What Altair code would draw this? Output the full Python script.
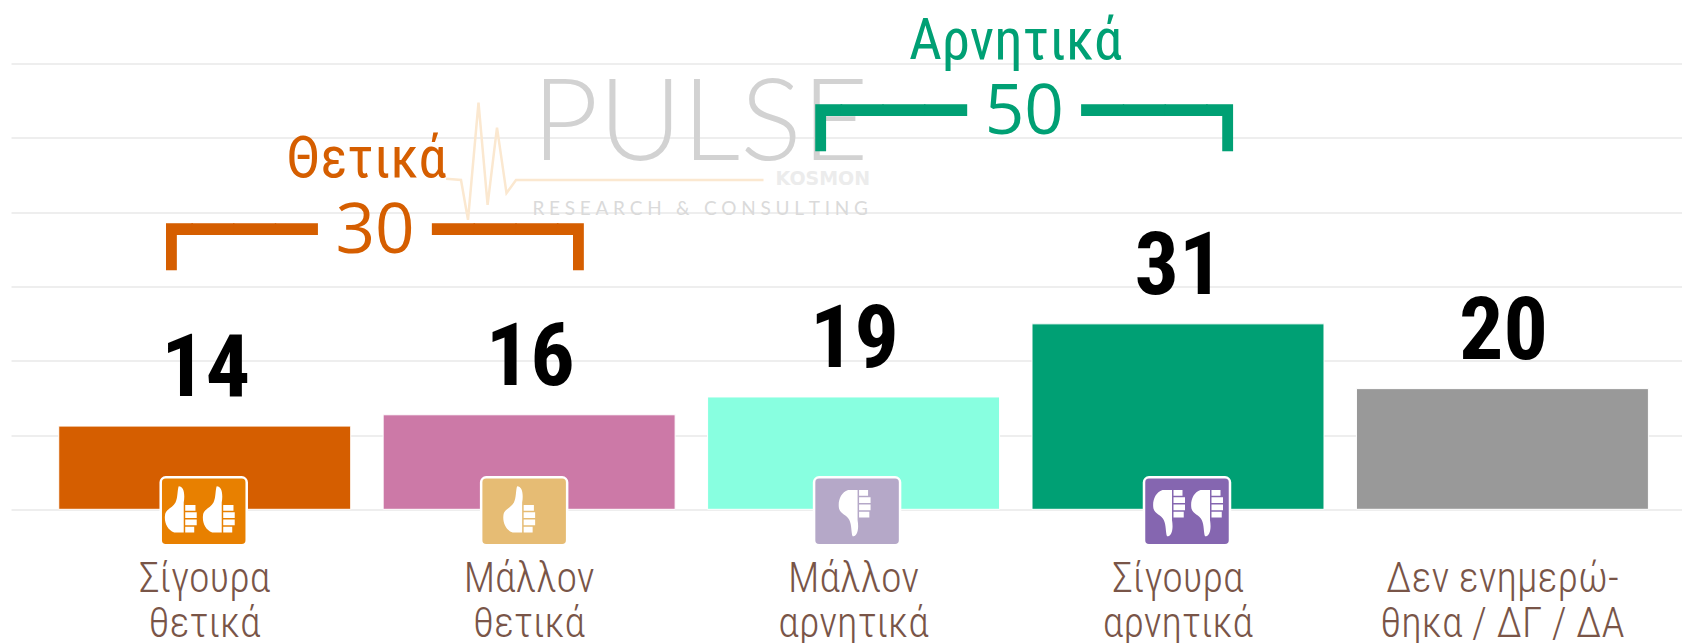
import altair as alt
import pandas as pd

categories = ["Σίγουρα|θετικά", "Μάλλον|θετικά", "Μάλλον|αρνητικά", "Σίγουρα|αρνητικά", "Δεν ενημερώ-|θηκα / ΔΓ / ΔΑ"]
values = [14, 16, 19, 31, 20]
bar_heights = [14, 15.9, 18.9, 31.2, 20.3]
bar_colors = ["#D55E00", "#CC79A7", "#88FFE0", "#00A074", "#999999"]
icon_colors = ["#E88000", "#E6BC74", "#B5A8C8", "#8566B0"]
grid_values = [0, 12.5, 25, 37.5, 50, 62.5, 75]
pulse_x = [435, 450, 457, 467.5, 476.6, 486, 495.5, 505, 752.5]
pulse_y = [55.6, 55.4, 48.7, 68.4, 51.2, 64.2, 53.2, 55.4, 55.4]

THUMB_UP = ("M-0.12 -1 C0.08 -1 0.14 -0.7 0.08 -0.35 L0.08 0.85 L-0.3 0.85 "
            "C-0.6 0.75 -0.72 0.4 -0.66 0.1 C-0.6 -0.1 -0.35 -0.15 -0.25 -0.35 "
            "C-0.15 -0.55 -0.18 -0.85 -0.12 -1 Z "
            "M0.14 -0.25 L0.55 -0.25 L0.55 -0.02 L0.14 -0.02 Z "
            "M0.14 0.04 L0.6 0.04 L0.6 0.27 L0.14 0.27 Z "
            "M0.14 0.33 L0.6 0.33 L0.6 0.56 L0.14 0.56 Z "
            "M0.14 0.62 L0.5 0.62 L0.5 0.85 L0.14 0.85 Z")
THUMB_DOWN = ("M-0.12 1 C0.08 1 0.14 0.7 0.08 0.35 L0.08 -0.85 L-0.3 -0.85 "
              "C-0.6 -0.75 -0.72 -0.4 -0.66 -0.1 C-0.6 0.1 -0.35 0.15 -0.25 0.35 "
              "C-0.15 0.55 -0.18 0.85 -0.12 1 Z "
              "M0.14 0.25 L0.55 0.25 L0.55 0.02 L0.14 0.02 Z "
              "M0.14 -0.04 L0.6 -0.04 L0.6 -0.27 L0.14 -0.27 Z "
              "M0.14 -0.33 L0.6 -0.33 L0.6 -0.56 L0.14 -0.56 Z "
              "M0.14 -0.62 L0.5 -0.62 L0.5 -0.85 L0.14 -0.85 Z")

df = pd.DataFrame({"cat": categories, "value": values, "h": bar_heights, "color": bar_colors})
one = pd.DataFrame({"a": [1]})

xscale = alt.Scale(type="band", domain=categories, paddingInner=0.1, paddingOuter=0.1253, align=0.587)
yscale = alt.Scale(domain=[0, 75], nice=False, zero=False)
x_plain = alt.X("cat:N", scale=xscale, axis=None, sort=None)
y_plain = alt.Y("h:Q", scale=yscale, axis=None)

ORANGE, GREEN = "#D55E00", "#00A074"
BR_FONT = '"Open Sans", "DejaVu Sans Mono"'
NARROW = '"Roboto Condensed", "Roboto"'

base = alt.Chart(df).mark_bar(opacity=0).encode(
    x=alt.X("cat:N", scale=xscale, sort=None, title=None, axis=alt.Axis(
        domain=False, ticks=False, labelAngle=0, labelPadding=49,
        labelExpr="split(datum.label, '|')", labelFont=NARROW, labelFontWeight=300,
        labelFontSize=42, labelColor="#795548", labelLineHeight=45,
        labelOverlap=False, labelLimit=0, labelBaseline="top", grid=False)),
    y=alt.Y("h:Q", scale=yscale, title=None, axis=alt.Axis(
        values=grid_values, domain=False, ticks=False, labels=False, grid=True,
        gridColor="#EEEEEE", gridWidth=2, title=None)),
)

pulse = alt.Chart(pd.DataFrame({"px": pulse_x, "py": pulse_y})).mark_line(
    color="#FBE8D0", strokeWidth=2.5).encode(
    x=alt.X("px:Q", scale=alt.Scale(domain=[0, 1671], nice=False, zero=False), axis=None),
    y=alt.Y("py:Q", scale=yscale, axis=None),
)

def text_at(txt, cat, yval, **kw):
    return alt.Chart(one).mark_text(text=txt, **kw).encode(
        x=alt.XDatum(cat, scale=xscale, axis=None, bandPosition=1),
        y=alt.YDatum(yval, scale=yscale, axis=None),
    )

pulse_word = text_at("PULSE", categories[1], 58.7, font="Lato", fontWeight=300, fontSize=115, color="#D2D2D2",
                     align="center", baseline="alphabetic", dx=25)
kosmon = text_at("KOSMON", categories[1], 54.5, font="DejaVu Sans", fontWeight="bold", fontSize=19,
                 color="#ECECEC", align="right", baseline="alphabetic", dx=195)
research = text_at("\u2005".join("RESEARCH & CONSULTING"),
                   categories[1], 49.5, font="Lato", fontSize=19, color="#DADADA",
                   align="center", baseline="alphabetic", dx=25)

bars = alt.Chart(df).mark_bar(stroke="#FFFFFF", strokeWidth=1).encode(
    x=x_plain, y=y_plain,
    color=alt.Color("color:N", scale=None),
)

labels = alt.Chart(df).mark_text(
    font=NARROW, fontWeight="bold", fontSize=88, color="#000000",
    baseline="alphabetic", align="center", dy=-30, dx=1).encode(
    x=x_plain, y=y_plain, text="value:Q")

icon_offsets = [-1, -5, 3.5, 9]
hand_specs = [
    (0, THUMB_UP, [-23, 15]),
    (1, THUMB_UP, [-9]),
    (2, THUMB_DOWN, [2]),
    (3, THUMB_DOWN, [-8, 30]),
]
icons = []
for i, col in enumerate(icon_colors):
    icons.append(alt.Chart(one).mark_rect(
        width=86, height=68, cornerRadius=5, fill=col, stroke="#FFFFFF", strokeWidth=2.5,
        xOffset=icon_offsets[i], yOffset=2).encode(
        x=alt.XDatum(categories[i], scale=xscale, axis=None),
        y=alt.YDatum(0, scale=yscale, axis=None)))
for i, shape, offs in hand_specs:
    for off in offs:
        icons.append(alt.Chart(one).mark_point(
            shape=shape, filled=True, fill="#FFFFFF", opacity=1, size=2500,
            xOffset=off, yOffset=2, strokeWidth=0).encode(
            x=alt.XDatum(categories[i], scale=xscale, axis=None),
            y=alt.YDatum(0, scale=yscale, axis=None)))

thetika = text_at("Θετικά", categories[0], 55.9, font="Roboto Condensed", fontSize=57, color=ORANGE,
                  baseline="alphabetic", align="center", dx=16)
thetika_b = text_at("┏━━━ 30 ━━━┓", categories[0], 43.1, font=BR_FONT, fontSize=69.3, color=ORANGE,
                    baseline="alphabetic", align="center", dx=24.4)
arn = text_at("Αρνητικά", categories[2], 75.8, font="Roboto Condensed", fontSize=57, color=GREEN,
              baseline="alphabetic", align="center", dx=16)
arn_b = text_at("┏━━━ 50 ━━━┓", categories[2], 63.2, font=BR_FONT, fontSize=69.3, color=GREEN,
                baseline="alphabetic", align="center", dx=24.8)

chart = alt.layer(
    base, pulse, pulse_word, kosmon, research, bars, labels, *icons,
    thetika, thetika_b, arn, arn_b,
).resolve_scale(x="independent").resolve_axis(y="independent").properties(
    width=1671, height=445.8,
    padding={"left": 3, "top": 55.5, "right": 0, "bottom": 134},
    autosize=alt.AutoSizeParams(type="none"),
    background="#FFFFFF",
).configure_view(stroke=None)

chart.save("out.html", embed_options={"renderer": "svg", "actions": False})
